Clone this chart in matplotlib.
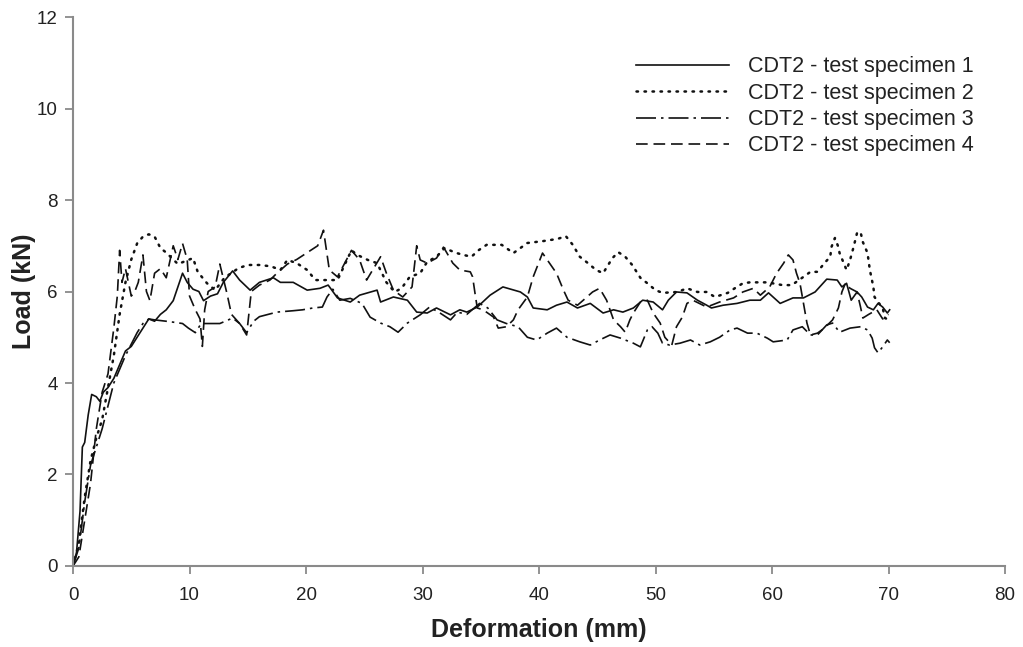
import matplotlib
matplotlib.use("Agg")
import matplotlib.pyplot as plt

plt.rcParams['font.family'] = ['Liberation Sans', 'DejaVu Sans']

# specimen 1 (solid)
s1_x = [0, 0.3, 0.6, 0.8, 1.0, 1.3, 1.6, 2.0, 2.3, 2.6, 3.0, 3.5, 4.0, 4.5, 5.0, 5.5, 6.0, 6.5, 7.0, 7.5,
        8.0, 8.6, 9.0, 9.4, 9.8, 10.3, 10.8, 11.2, 11.8, 12.4, 12.9, 13.7, 14.3, 15.2, 16.0, 17.2, 17.8, 18.9, 20.1, 21.2,
        21.9, 22.7, 23.8, 24.6, 26.1, 26.4, 27.5, 28.7, 29.5, 30.4, 31.2, 32.4, 33.2, 33.8, 34.7, 35.8, 36.9, 38.4, 39.0, 39.5,
        40.7, 41.5, 42.4, 43.3, 44.4, 45.5, 46.4, 47.2, 48.1, 48.9, 49.8, 50.6, 51.1, 51.8, 52.7, 53.6, 54.4, 54.8, 55.8, 57.0,
        58.1, 59.0, 59.7, 60.7, 61.8, 62.7, 63.7, 64.7, 65.6, 66.0, 66.4, 66.8, 67.3, 67.7, 68.2, 68.7, 69.1, 69.5, 69.9, 70.1]
s1_y = [0, 0.3, 1.2, 2.6, 2.7, 3.3, 3.75, 3.7, 3.6, 3.8, 3.9, 4.1, 4.4, 4.7, 4.8, 5.0, 5.2, 5.4, 5.35, 5.5,
        5.6, 5.8, 6.1, 6.4, 6.2, 6.05, 6.0, 5.8, 5.9, 5.95, 6.2, 6.45, 6.25, 6.03, 6.2, 6.3, 6.2, 6.2, 6.03, 6.07,
        6.14, 5.86, 5.77, 5.92, 6.03, 5.77, 5.88, 5.81, 5.55, 5.53, 5.64, 5.49, 5.6, 5.55, 5.66, 5.92, 6.1, 5.99, 5.88, 5.64,
        5.6, 5.7, 5.77, 5.64, 5.74, 5.53, 5.6, 5.55, 5.64, 5.81, 5.77, 5.6, 5.81, 5.99, 5.97, 5.81, 5.7, 5.64, 5.7, 5.74,
        5.81, 5.81, 5.97, 5.74, 5.86, 5.86, 5.99, 6.27, 6.25, 6.1, 6.18, 5.81, 5.99, 5.88, 5.66, 5.6, 5.74, 5.66, 5.53, 5.6]

# specimen 2 (dotted)
s2_x = [0, 0.5, 1.0, 1.5, 2.0, 2.5, 3.0, 3.5, 4.0, 4.5, 5.0, 5.5, 6.0, 6.5, 7.0, 7.5, 8.0, 9.0, 10.3, 10.7,
        11.5, 12.2, 13.0, 14.2, 15.0, 16.0, 17.0, 17.8, 18.4, 19.2, 20.1, 20.8, 21.6, 22.7, 23.9, 24.4, 25.3, 26.1, 26.9, 27.6,
        28.2, 28.9, 29.8, 30.4, 31.2, 31.9, 32.8, 33.5, 34.2, 34.8, 35.5, 36.8, 37.8, 38.4, 39.0, 40.3, 41.6, 42.3, 42.9, 43.5,
        44.2, 44.9, 45.5, 46.3, 46.8, 47.4, 48.0, 48.7, 49.3, 50.0, 50.6, 51.9, 52.7, 53.6, 54.4, 55.1, 56.2, 56.8, 57.5, 58.1,
        58.8, 59.6, 60.9, 61.7, 62.7, 63.3, 63.9, 64.5, 65.0, 65.1, 65.4, 65.7, 65.8, 66.4, 66.7, 67.0, 67.3, 67.6, 67.8, 68.2,
        68.4, 68.7, 68.8, 69.1, 69.5, 69.7, 70.0]
s2_y = [0, 0.5, 1.5, 2.3, 2.8, 3.2, 3.9, 4.6, 5.5, 6.2, 6.7, 7.05, 7.2, 7.25, 7.2, 6.95, 6.85, 6.6, 6.73, 6.43,
        6.18, 6.03, 6.3, 6.51, 6.58, 6.58, 6.55, 6.47, 6.69, 6.62, 6.47, 6.25, 6.25, 6.25, 6.9, 6.8, 6.69, 6.62, 6.2, 5.99,
        6.07, 6.32, 6.4, 6.65, 6.76, 6.95, 6.85, 6.8, 6.76, 6.9, 7.02, 7.02, 6.84, 6.95, 7.06, 7.1, 7.15, 7.21, 7.02, 6.76,
        6.62, 6.47, 6.4, 6.73, 6.86, 6.76, 6.58, 6.3, 6.18, 6.03, 5.97, 5.99, 6.07, 5.99, 5.99, 5.88, 5.97, 6.07, 6.18, 6.2,
        6.2, 6.2, 6.14, 6.14, 6.32, 6.43, 6.43, 6.62, 6.76, 6.97, 7.17, 6.97, 6.84, 6.47, 6.69, 6.97, 7.28, 7.3, 7.08, 6.84,
        6.47, 6.1, 5.88, 5.77, 5.64, 5.42, 5.38]

# specimen 3 (dash-dot)
s3_x = [0, 0.5, 1.0, 1.5, 2.0, 2.5, 3.0, 3.5, 4.0, 4.5, 5.0, 5.5, 6.0, 6.5, 7.0, 8.0, 8.6, 9.4, 9.9, 10.5,
        11.0, 12.0, 12.6, 13.7, 14.3, 14.9, 15.5, 16.0, 17.5, 18.9, 19.7, 20.6, 21.4, 21.8, 22.3, 22.9, 23.8, 24.8, 25.5, 26.4,
        27.2, 27.9, 28.7, 29.8, 30.6, 31.5, 32.4, 33.0, 33.8, 34.9, 35.6, 36.4, 37.2, 38.2, 39.0, 39.8, 40.7, 41.5, 42.4, 43.5,
        44.4, 45.2, 46.1, 47.0, 48.1, 48.7, 49.3, 49.7, 50.2, 50.6, 51.2, 52.1, 53.0, 53.8, 54.7, 55.5, 56.4, 57.0, 57.9, 58.7,
        59.6, 60.1, 61.3, 61.8, 62.6, 63.3, 63.9, 64.7, 65.2, 65.8, 66.7, 67.6, 68.2, 68.6, 68.8, 69.1, 69.5, 69.9, 70.1]
s3_y = [0, 0.4, 1.4, 2.2, 2.6, 3.0, 3.5, 4.0, 4.3, 4.6, 4.85, 5.1, 5.3, 5.4, 5.38, 5.35, 5.33, 5.3, 5.2, 5.1,
        5.3, 5.3, 5.3, 5.42, 5.3, 5.1, 5.35, 5.45, 5.55, 5.58, 5.6, 5.64, 5.66, 5.88, 6.05, 5.81, 5.85, 5.74, 5.44, 5.31,
        5.23, 5.11, 5.31, 5.49, 5.66, 5.53, 5.38, 5.55, 5.5, 5.74, 5.64, 5.38, 5.3, 5.23, 5.0, 4.94, 5.09, 5.2, 5.0, 4.9,
        4.83, 4.94, 5.05, 4.98, 4.87, 4.79, 5.16, 5.23, 5.09, 4.87, 4.83, 4.87, 4.94, 4.83, 4.9, 5.0, 5.16, 5.2, 5.09, 5.09,
        4.98, 4.9, 4.94, 5.16, 5.23, 5.05, 5.05, 5.27, 5.31, 5.11, 5.2, 5.23, 5.16, 4.98, 4.77, 4.66, 4.79, 4.94, 4.88]

# specimen 4 (dashed)
s4_x = [0, 0.5, 1.0, 1.5, 2.0, 2.5, 3.0, 3.5, 3.8, 4.0, 4.2, 4.5, 5.0, 5.3, 5.6, 6.0, 6.3, 6.6, 7.0, 7.5,
        8.0, 8.6, 9.0, 9.4, 9.8, 10.0, 10.5, 10.9, 11.1, 11.3, 11.6, 12.2, 12.6, 13.2, 13.6, 14.3, 14.9, 15.3, 16.0, 16.9,
        17.5, 18.4, 19.2, 20.1, 21.0, 21.5, 22.0, 22.7, 23.9, 24.6, 25.2, 26.4, 26.9, 27.5, 28.3, 29.1, 29.5, 29.8, 30.4, 31.2,
        31.8, 32.6, 33.2, 34.1, 34.3, 34.5, 34.7, 35.2, 36.1, 36.5, 37.2, 37.8, 38.2, 39.0, 39.5, 40.3, 40.9, 41.5, 42.1, 42.5,
        43.3, 43.8, 44.6, 45.2, 45.8, 46.4, 47.0, 47.4, 47.8, 48.1, 48.7, 49.3, 49.8, 50.4, 50.8, 51.4, 51.8, 52.3, 52.7, 53.2,
        54.4, 55.5, 56.7, 57.5, 58.4, 59.0, 59.8, 60.4, 61.0, 61.4, 61.8, 62.1, 62.4, 62.7, 63.0, 63.3, 63.9, 64.5, 65.2, 65.7,
        66.0, 66.3, 66.7, 67.3, 67.6, 67.8, 68.3, 69.0, 69.5, 70.0]
s4_y = [0, 0.2, 1.0, 1.8, 3.0, 3.8, 4.2, 5.2, 5.9, 6.9, 6.2, 6.5, 5.9, 6.0, 6.2, 6.8, 6.0, 5.8, 6.4, 6.5,
        6.3, 7.0, 6.7, 7.05, 6.7, 5.9, 5.6, 5.4, 4.8, 5.6, 6.0, 6.1, 6.6, 5.97, 5.5, 5.3, 5.05, 6.0, 6.14, 6.25,
        6.4, 6.6, 6.7, 6.85, 7.0, 7.34, 6.47, 6.32, 6.9, 6.69, 6.25, 6.76, 6.4, 6.03, 5.88, 6.1, 7.0, 6.69, 6.62, 6.73,
        6.97, 6.62, 6.47, 6.43, 6.32, 5.97, 5.64, 5.6, 5.44, 5.2, 5.23, 5.38, 5.6, 5.88, 6.32, 6.84, 6.62, 6.4, 6.03, 5.81,
        5.7, 5.81, 5.99, 6.07, 5.81, 5.38, 5.23, 5.11, 5.38, 5.53, 5.77, 5.81, 5.53, 5.31, 5.0, 4.83, 5.23, 5.44, 5.74, 5.81,
        5.66, 5.77, 5.86, 5.99, 6.07, 5.92, 6.1, 6.4, 6.62, 6.8, 6.69, 6.4, 6.18, 5.74, 5.31, 5.05, 5.09, 5.2, 5.38, 5.64,
        5.99, 6.18, 6.07, 5.99, 5.66, 5.42, 5.5, 5.6, 5.4, 5.5]

labels = ["CDT2 - test specimen 1", "CDT2 - test specimen 2",
          "CDT2 - test specimen 3", "CDT2 - test specimen 4"]

fig = plt.figure(figsize=(10.23, 6.47), dpi=100)
ax = fig.add_axes([0.0714, 0.1252, 0.9110, 0.8485])

ax.plot(s1_x, s1_y, color='#111111', lw=1.2, ls='-', label=labels[0])
ax.plot(s2_x, s2_y, color='#111111', lw=1.8, ls=(0, (0.6, 2.6)), dash_capstyle='round', label=labels[1])
ax.plot(s3_x, s3_y, color='#111111', lw=1.2, ls=(0, (12, 3, 1.5, 3)), label=labels[2])
ax.plot(s4_x, s4_y, color='#111111', lw=1.2, ls=(0, (7, 3.5)), label=labels[3])

ax.set_xlim(0, 80)
ax.set_ylim(0, 12)
ax.set_xticks(range(0, 81, 10))
ax.set_yticks(range(0, 13, 2))

for side in ['top', 'right']:
    ax.spines[side].set_visible(False)
for side in ['left', 'bottom']:
    ax.spines[side].set_color('#8a8a8a')
    ax.spines[side].set_linewidth(1.5)
ax.tick_params(direction='out', length=6, width=1.3, color='#8a8a8a',
               labelsize=13.5, labelcolor='#222222', pad=5)
ax.tick_params(axis='x', pad=9)

ax.set_xlabel("Deformation (mm)", fontsize=18, fontweight='bold', color='#222222', labelpad=10)
ax.set_ylabel("Load (kN)", fontsize=18, fontweight='bold', color='#222222', labelpad=1)

ax.legend(loc='upper right', bbox_to_anchor=(0.952, 0.913), bbox_transform=fig.transFigure,
          frameon=False, fontsize=15.5, handlelength=4.3, handletextpad=0.9,
          labelspacing=0.25, borderaxespad=0, borderpad=0,
          labelcolor='#222222')

fig.savefig("out.png", dpi=100)
